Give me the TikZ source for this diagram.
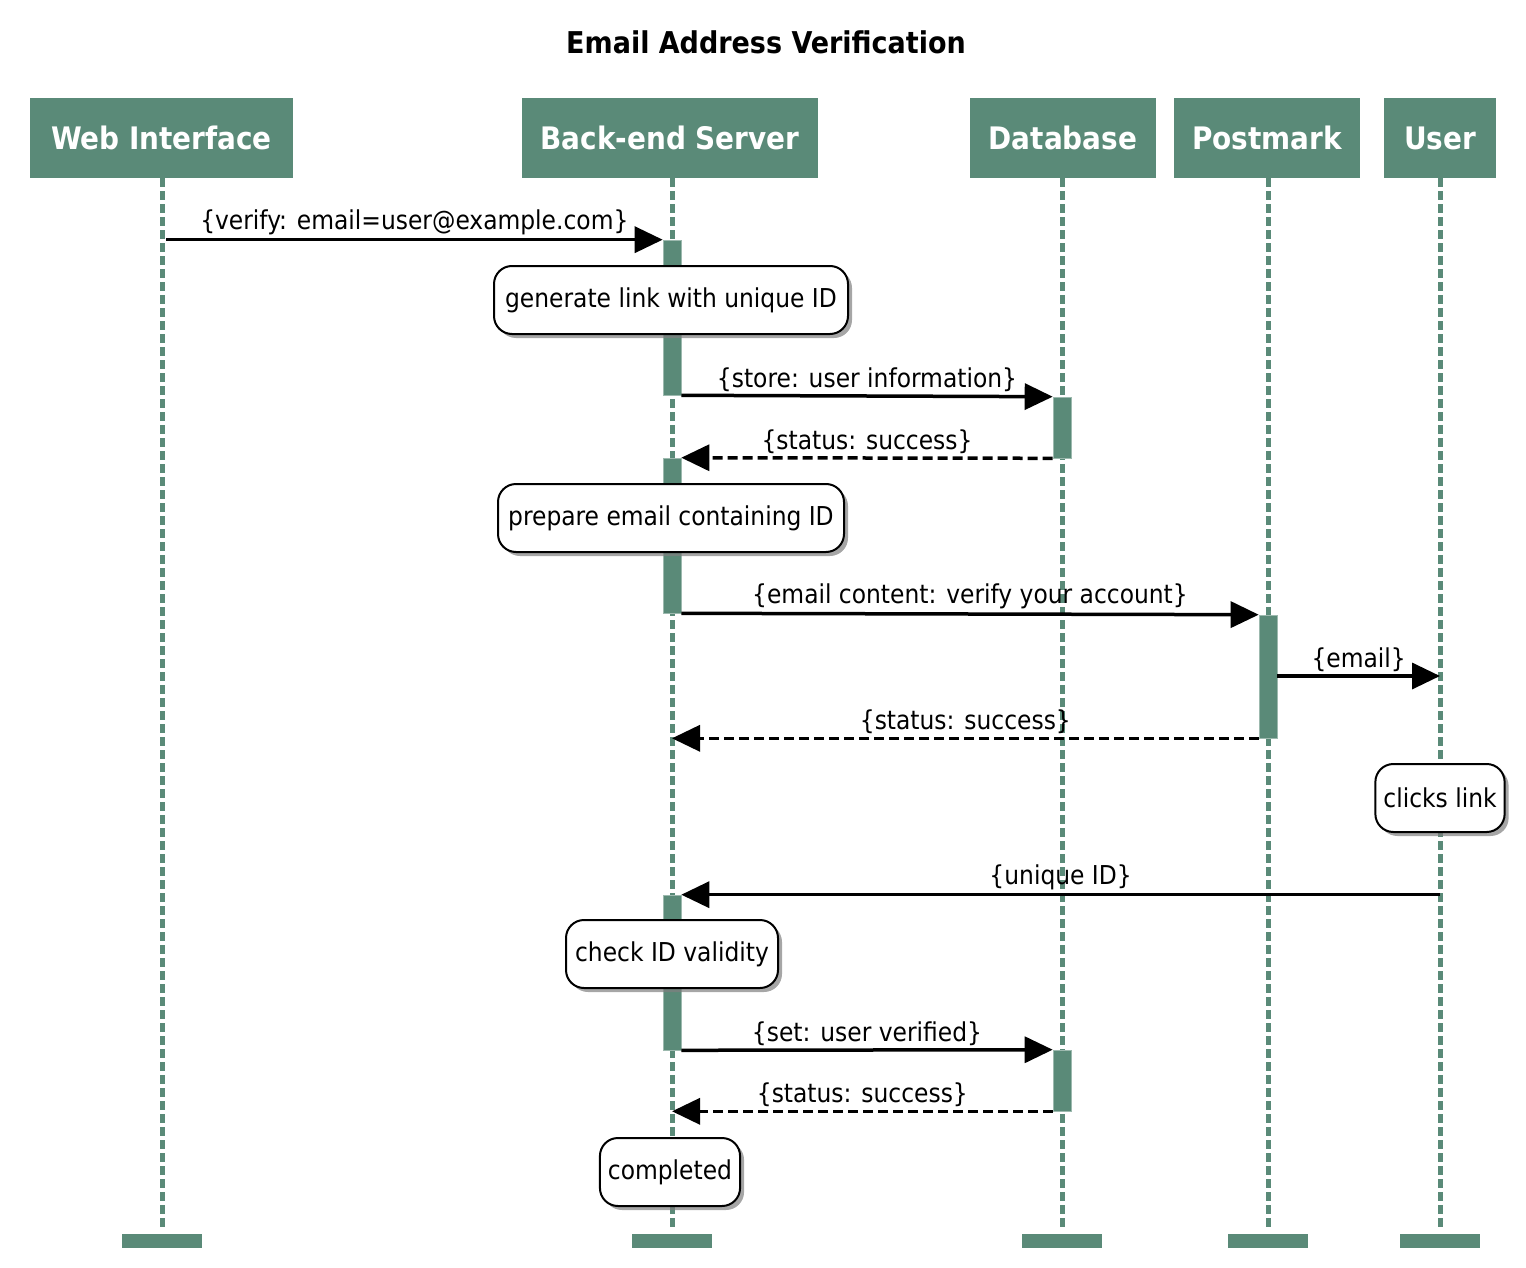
\documentclass[tikz,border=0pt]{standalone}
\usepackage{fontspec}
\setmainfont{DejaVu Sans Condensed}
\usetikzlibrary{shadows,arrows.meta}
\definecolor{sg}{RGB}{90,138,120}
\begin{document}
\begin{tikzpicture}[x=1pt,y=-1pt,
 actor/.style={fill=sg, minimum height=80pt, text=white, font=\fontsize{31}{36}\selectfont\bfseries, inner sep=0},
 life/.style={draw=sg, line width=5pt, dash pattern=on 9pt off 4pt},
 endbar/.style={fill=sg, minimum width=80pt, minimum height=14pt, inner sep=0},
 act/.style={fill=sg, draw=sg!60!white, line width=0.6pt, minimum width=18pt, inner sep=0},
 msg/.style={line width=3.5pt, -{Triangle[length=28pt,width=26pt]}},
 ret/.style={msg, dash pattern=on 10pt off 5pt},
 note/.style={draw=black, line width=2pt, fill=white, rounded corners=18pt, minimum height=68pt, inner xsep=8pt, font=\fontsize{26}{30}\selectfont, drop shadow={shadow xshift=4pt, shadow yshift=-4pt, opacity=0.7}},
 lbl/.style={font=\fontsize{26}{30}\selectfont, inner sep=0}
]
\useasboundingbox (0,0) rectangle (1526,1268);
% title
\node[font=\fontsize{30}{36}\selectfont\bfseries] (title) at (766,42) {Email Address Verification};
% actors
\node[actor, minimum width=263pt] (web) at (161.5,138) {Web Interface};
\node[actor, minimum width=296pt] (be) at (670,138) {Back-end Server};
\node[actor, minimum width=186pt] (db) at (1063,138) {Database};
\node[actor, minimum width=186pt] (pm) at (1267,138) {Postmark};
\node[actor, minimum width=112pt] (us) at (1440,138) {User};
% end bars
\node[endbar] (webend) at (162,1241) {};
\node[endbar] (beend) at (672,1241) {};
\node[endbar] (dbend) at (1062,1241) {};
\node[endbar] (pmend) at (1268,1241) {};
\node[endbar] (usend) at (1440,1241) {};
% lifelines
\foreach \a/\b in {web/webend, be/beend, db/dbend, pm/pmend, us/usend}
  \draw[life] (\b.north |- \a.south) -- ([yshift=6pt]\b.north);
% activation bars
\node[act, minimum height=155pt] (b1) at (672,317.5) {};
\node[act, minimum height=155pt] (b2) at (672,535.5) {};
\node[act, minimum height=155pt] (b3) at (672,972.5) {};
\node[act, minimum height=61pt] (d1) at (1062,427.5) {};
\node[act, minimum height=61pt] (d2) at (1062,1080.5) {};
\node[act, minimum height=123pt] (p1) at (1268,676.5) {};
% notes
\node[note, minimum width=354pt] (n1) at (671,300) {generate link with unique ID};
\node[note, minimum width=346pt] (n2) at (671,518) {prepare email containing ID};
\node[note, minimum width=128pt] (n3) at (1440,798) {clicks link};
\node[note, minimum width=212pt] (n4) at (672,954) {check ID validity};
\node[note, minimum width=140pt] (n5) at (670,1172) {completed};
% messages
\coordinate (u1) at (1440,676);
\draw[msg] ([xshift=4pt]webend.north |- b1.north west) -- node[lbl, above=3pt] {\{verify: email=user@example.com\}} (b1.north west);
\draw[msg] (b1.south east) -- node[lbl, above=3pt] {\{store: user information\}} (d1.north west);
\draw[ret] (d1.south west) -- node[lbl, above=3pt] {\{status: success\}} (b2.north east);
\draw[msg] (b2.south east) -- node[lbl, above=3pt] {\{email content: verify your account\}} (p1.north west);
\draw[msg] (p1.east |- u1) -- node[lbl, above=3pt] {\{email\}} (u1);
\draw[ret] (p1.south west) -- node[lbl, above=3pt] {\{status: success\}} (beend.north |- p1.south west);
\draw[msg] (usend.north |- b3.north east) -- node[lbl, above=3pt] {\{unique ID\}} (b3.north east);
\draw[msg] (b3.south east) -- node[lbl, above=3pt] {\{set: user verified\}} (d2.north west);
\draw[ret] (d2.south west) -- node[lbl, above=3pt] {\{status: success\}} (beend.north |- d2.south west);
\end{tikzpicture}
\end{document}
